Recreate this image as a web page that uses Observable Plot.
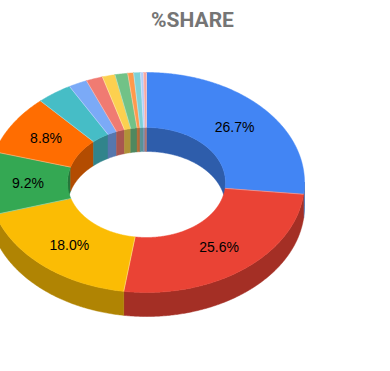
<!DOCTYPE html>
<html><head><meta charset="utf-8">
<script src="https://cdn.jsdelivr.net/npm/d3@7"></script>
<script src="https://cdn.jsdelivr.net/npm/@observablehq/plot@0.6"></script>
<style>body{margin:0;background:#fff}</style>
</head><body><div id="chart"></div>
<script>
const title = "%SHARE";
const categories = ["S1","S2","S3","S4","S5","S6","S7","S8","S9","S10","S11","S12","S13","S14"];
const shares = [26.7, 25.6, 18.0, 9.2, 8.8, 3.6, 1.9, 1.7, 1.3, 1.3, 0.6, 0.7, 0.3, 0.3];
const colors = ["#4285F4","#EA4335","#FBBC04","#34A853","#FF6D01","#46BDC6","#7BAAF7","#F07B72","#FCD04F","#71C287","#FF994D","#7ED1D7","#B3CEFB","#F7A7A1"];

// layout
const W = 390, H = 371;
const CX = 146, CY = 182, RX = 158, RY = 110, DEPTH = 24, HOLE = 0.5;
const DZ = DEPTH / RY; // depth in y units (1 unit = RY px)
const LABEL_MIN = 5;

const total = d3.sum(shares);
let cum = 0;
const slices = shares.map((s, i) => {
  const a0 = 2 * Math.PI * cum / total;
  cum += s;
  const a1 = 2 * Math.PI * cum / total;
  return {i, cat: categories[i], share: s, a0, a1, color: colors[i]};
});

const STEP = Math.PI / 360;
function arc(lo, hi, r, dz) {
  const n = Math.max(2, Math.ceil((hi - lo) / STEP) + 1);
  const pts = [];
  for (let k = 0; k < n; k++) {
    const a = lo + (hi - lo) * k / (n - 1);
    pts.push({x: r * Math.sin(a), y: -r * Math.cos(a) + dz});
  }
  return pts;
}
function poly(id, color, ptsA, ptsB) {
  const all = ptsA.concat(ptsB.slice().reverse());
  all.push(all[0]);
  return all.map(p => ({...p, id, color}));
}

const tops = [], outerWalls = [], innerWalls = [];
for (const s of slices) {
  tops.push(...poly("t" + s.i, s.color, arc(s.a0, s.a1, 1, 0), arc(s.a0, s.a1, HOLE, 0)));
  const dark = d3.color(s.color).darker(1).formatHex();
  {
    const lo = Math.max(s.a0, Math.PI / 2), hi = Math.min(s.a1, 3 * Math.PI / 2);
    if (lo < hi) outerWalls.push(...poly("o" + s.i, dark, arc(lo, hi, 1, 0), arc(lo, hi, 1, DZ)));
  }
  for (const [A, B, tag] of [[0, Math.PI / 2, "a"], [3 * Math.PI / 2, 2 * Math.PI, "b"]]) {
    const lo = Math.max(s.a0, A), hi = Math.min(s.a1, B);
    if (lo < hi) innerWalls.push(...poly("i" + tag + s.i, dark, arc(lo, hi, HOLE, 0), arc(lo, hi, HOLE, DZ)));
  }
}

const seps = slices.map(s => ({
  x1: HOLE * Math.sin(s.a0), y1: -HOLE * Math.cos(s.a0),
  x2: Math.sin(s.a0), y2: -Math.cos(s.a0)
}));

const labels = slices.filter(s => s.share >= LABEL_MIN).map(s => {
  const a = (s.a0 + s.a1) / 2, r = (1 + HOLE) / 2;
  return {x: r * Math.sin(a), y: -r * Math.cos(a), text: s.share.toFixed(1) + "%"};
});

const chart = Plot.plot({
  width: W, height: H,
  margin: 0,
  x: {domain: [-1, 1], range: [CX - RX, CX + RX], axis: null},
  y: {domain: [-1, 1], range: [CY - RY, CY + RY], axis: null},
  color: {type: "identity"},
  style: {background: "#fff", fontFamily: "Arial, 'Liberation Sans', sans-serif"},
  marks: [
    Plot.line(outerWalls, {x: "x", y: "y", z: "id", fill: "color", stroke: "color", strokeWidth: 0.5, curve: "linear"}),
    Plot.line(innerWalls, {x: "x", y: "y", z: "id", fill: "color", stroke: "color", strokeWidth: 0.5, curve: "linear"}),
    Plot.line(tops, {x: "x", y: "y", z: "id", fill: "color", stroke: "color", strokeWidth: 0.5, curve: "linear"}),
    Plot.link(seps, {x1: "x1", y1: "y1", x2: "x2", y2: "y2", stroke: "#ffffff", strokeOpacity: 0.35, strokeWidth: 1}),
    Plot.text(labels, {x: "x", y: "y", text: "text", fill: "#000", fontSize: 14}),
    Plot.text([title], {frameAnchor: "top", lineAnchor: "top", dy: 12, dx: -3, text: d => d, fill: "#757575", fontSize: 21, fontWeight: "bold", fontFamily: "Roboto, Arial, sans-serif"})
  ]
});
document.getElementById("chart").append(chart);
</script>
</body></html>
